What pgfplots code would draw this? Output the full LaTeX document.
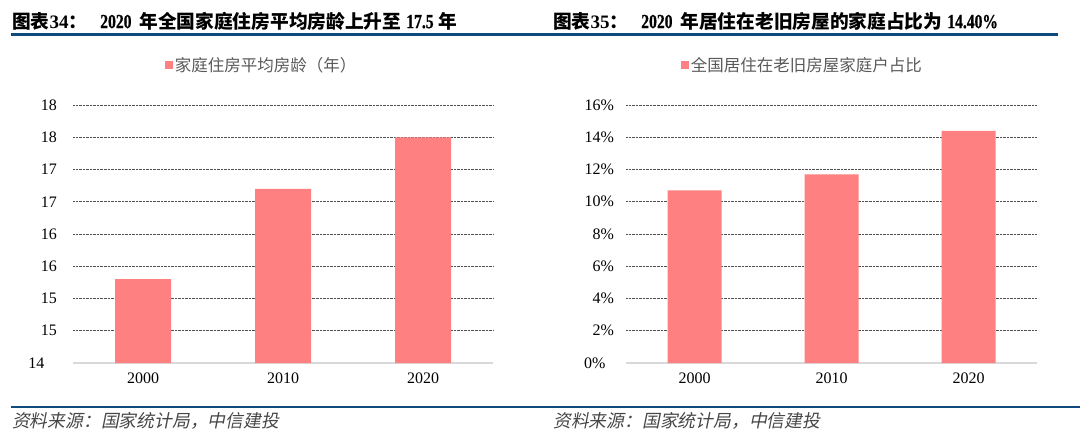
\documentclass[border=0pt]{standalone}
\usepackage{pgfplots}
\pgfplotsset{compat=1.18}
\usepackage{fontspec}
\setmainfont{Liberation Serif}
\newfontfamily\cjk{Noto Sans CJK SC}
\newfontfamily\cjki{Noto Sans CJK SC}[FakeSlant=0.2]
\newfontfamily\tnr{Liberation Serif}[UprightFont=*, BoldFont=* Bold, FakeStretch=0.78, FakeBold=0.6]
\definecolor{barc}{RGB}{255,128,128}
\definecolor{rulec}{RGB}{14,74,124}
\definecolor{gridc}{RGB}{80,80,80}
\definecolor{legc}{RGB}{89,89,89}
\definecolor{footc}{RGB}{70,70,70}
\definecolor{basec}{RGB}{217,217,217}
\newcommand{\tl}{\fontsize{20bp}{20bp}\selectfont\tnr}
\newcommand{\tn}{\fontsize{19bp}{20bp}\selectfont\rmfamily\bfseries}
\newcommand{\tc}{\fontsize{18.7bp}{20bp}\selectfont\cjk\bfseries}
\pgfplotsset{
  common/.style={
    scale only axis,
    ybar,
    xmin=-0.5, xmax=2.5,
    xtick={0,1,2}, xticklabels={2000,2010,2020},
    axis x line*=bottom, axis y line*=left,
    y axis line style={draw=none},
    x axis line style={draw=basec, line width=1.5bp},
    major tick length=0pt,
    ymajorgrids,
    grid style={densely dotted, gridc, line width=0.8bp},
    extra y tick style={ymajorgrids=false},
    ticklabel style={font=\fontsize{16bp}{18bp}\selectfont, text=black},
    xticklabel style={yshift=-6bp},
    /pgf/number format/assume math mode=true,
    legend style={draw=none, fill=none, anchor=west, inner sep=0pt, outer sep=0pt,
      font=\fontsize{16.5bp}{18bp}\selectfont\cjk, text=legc,
      nodes={inner sep=1.5bp}},
    legend image code/.code={\fill[##1, draw=none] (0bp,-4bp) rectangle (8bp,4bp);},
  }
}
\begin{document}
\begin{tikzpicture}
\path[use as bounding box] (0,0) rectangle (1080bp,-440bp);
% titles
\node[anchor=west, inner sep=0] at (12bp,-21bp) {\tc 图表{\tn 34}：\hspace{13bp}{\tl 2020}\hspace{8bp}年全国家庭住房平均房龄上升至\hspace{5bp}{\tl 17.5}\hspace{5bp}年};
\node[anchor=west, inner sep=0] at (553bp,-21bp) {\tc 图表{\tn 35}：\hspace{13bp}{\tl 2020}\hspace{8bp}年居住在老旧房屋的家庭占比为\hspace{5bp}{\tl 14.40\%}};
\draw[rulec, line width=3bp] (11bp,-34.5bp) -- (1058bp,-34.5bp);
% bottom rules
\draw[rulec, line width=1.3bp] (11bp,-407bp) -- (1080bp,-407bp);
\draw[rulec, line width=2.5bp] (11bp,-407bp) -- (23bp,-407bp);
\draw[rulec, line width=2.5bp] (517bp,-407bp) -- (565bp,-407bp);
\draw[rulec, line width=2.5bp] (1045bp,-407bp) -- (1080bp,-407bp);
% footers
\node[anchor=west, inner sep=0, text=footc] at (12bp,-421bp) {\fontsize{17.8bp}{19bp}\selectfont\cjki 资料来源：国家统计局，中信建投};
\node[anchor=west, inner sep=0, text=footc] at (553bp,-421bp) {\fontsize{17.8bp}{19bp}\selectfont\cjki 资料来源：国家统计局，中信建投};
% left chart
\begin{axis}[common,
  at={(73bp,-363bp)}, anchor=south west,
  width=420bp, height=258bp,
  bar width=56bp,
  ymin=14, ymax=18,
  ytick={14.5,15,...,18}, yticklabels={15,15,16,16,17,17,18,18},
  extra y ticks={14}, extra y tick labels={14},
  yticklabel style={xshift=-12.5bp},
  extra y tick style={yticklabel style={xshift=-12.5bp}},
  legend style={at={(0.2202,1.155)}},
]
\addplot[fill=barc, draw=none] coordinates {(0,15.3) (1,16.7) (2,17.5)};
\addlegendentry{家庭住房平均房龄（年）}
\end{axis}
% right chart
\begin{axis}[common,
  at={(626bp,-363bp)}, anchor=south west,
  width=411bp, height=258bp,
  bar width=54bp,
  ymin=0, ymax=16,
  ytick={2,4,...,16}, yticklabels={2\%,4\%,6\%,8\%,10\%,12\%,14\%,16\%},
  extra y ticks={0}, extra y tick labels={0\%},
  yticklabel style={xshift=-8.5bp},
  extra y tick style={yticklabel style={xshift=-8.5bp}},
  legend style={at={(0.135,1.155)}},
]
\addplot[fill=barc, draw=none] coordinates {(0,10.7) (1,11.7) (2,14.4)};
\addlegendentry{全国居住在老旧房屋家庭户占比}
\end{axis}
\end{tikzpicture}
\end{document}
